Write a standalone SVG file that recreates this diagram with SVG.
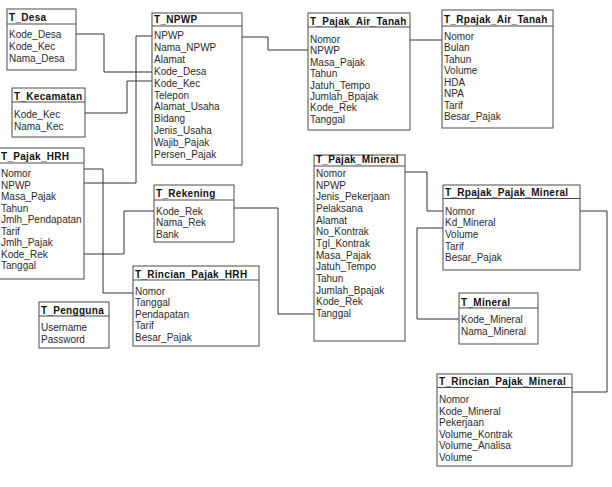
<svg xmlns="http://www.w3.org/2000/svg" width="612" height="487" viewBox="0 0 612 487">
<style>
rect.box{fill:#fff;stroke:#4a4a4a;stroke-width:1}
line.div{stroke:#4a4a4a;stroke-width:1.2}
text{font-family:"Liberation Sans",Arial,sans-serif;font-size:10px;fill:#2a2a2a}
text.t{font-weight:bold;fill:#111;letter-spacing:0.3px}
.conn polyline{fill:none;stroke:#333;stroke-width:1}
</style>
<rect width="612" height="487" fill="#fff"/>
<g class="conn">
<polyline points="76,34 104,34 104,72 152,72"/>
<polyline points="85,113 127,113 127,81 152,81"/>
<polyline points="84,183 136,183 136,36 152,36"/>
<polyline points="242,37 268,37 268,50 308,50"/>
<polyline points="410,40 442,40"/>
<polyline points="84,169 103,169 103,293 133,293"/>
<polyline points="84,254 124,254 124,211 154,211"/>
<polyline points="234,208 278,208 278,314 314,314"/>
<polyline points="405,172 427,172 427,211 443,211"/>
<polyline points="443,228 417,228 417,319 459,319"/>
<polyline points="580,211 607,211 607,392 572,392"/>
</g>
<g id="T_Desa">
<rect class="box" x="7" y="9" width="69" height="61"/>
<line class="div" x1="7" y1="24" x2="76" y2="24"/>
<text class="t" x="9" y="21.3">T_Desa</text>
<text x="9" y="38">Kode_Desa</text>
<text x="9" y="50">Kode_Kec</text>
<text x="9" y="62">Nama_Desa</text>
</g>
<g id="T_Kecamatan">
<rect class="box" x="12" y="88" width="73" height="49"/>
<line class="div" x1="12" y1="102" x2="85" y2="102"/>
<text class="t" x="14" y="99.5">T_Kecamatan</text>
<text x="14" y="118">Kode_Kec</text>
<text x="14" y="130">Nama_Kec</text>
</g>
<g id="T_NPWP">
<rect class="box" x="152" y="13" width="90" height="152"/>
<line class="div" x1="152" y1="26" x2="242" y2="26"/>
<text class="t" x="154" y="23.3">T_NPWP</text>
<text x="154" y="39">NPWP</text>
<text x="154" y="50.9">Nama_NPWP</text>
<text x="154" y="62.8">Alamat</text>
<text x="154" y="74.7">Kode_Desa</text>
<text x="154" y="86.6">Kode_Kec</text>
<text x="154" y="98.5">Telepon</text>
<text x="154" y="110.4">Alamat_Usaha</text>
<text x="154" y="122.3">Bidang</text>
<text x="154" y="134.2">Jenis_Usaha</text>
<text x="154" y="146.1">Wajib_Pajak</text>
<text x="154" y="158">Persen_Pajak</text>
</g>
<g id="T_Pajak_Air_Tanah">
<rect class="box" x="308" y="13" width="102" height="117"/>
<line class="div" x1="308" y1="27" x2="410" y2="27"/>
<text class="t" x="310" y="24.5">T_Pajak_Air_Tanah</text>
<text x="310" y="43">Nomor</text>
<text x="310" y="54.4">NPWP</text>
<text x="310" y="65.8">Masa_Pajak</text>
<text x="310" y="77.2">Tahun</text>
<text x="310" y="88.6">Jatuh_Tempo</text>
<text x="310" y="100">Jumlah_Bpajak</text>
<text x="310" y="111.4">Kode_Rek</text>
<text x="310" y="122.8">Tanggal</text>
</g>
<g id="T_Rpajak_Air_Tanah">
<rect class="box" x="442" y="10" width="111" height="118"/>
<line class="div" x1="442" y1="26" x2="553" y2="26"/>
<text class="t" x="444" y="22.8">T_Rpajak_Air_Tanah</text>
<text x="444" y="39.8">Nomor</text>
<text x="444" y="51.3">Bulan</text>
<text x="444" y="62.8">Tahun</text>
<text x="444" y="74.3">Volume</text>
<text x="444" y="85.8">HDA</text>
<text x="444" y="97.3">NPA</text>
<text x="444" y="108.8">Tarif</text>
<text x="444" y="120.3">Besar_Pajak</text>
</g>
<g id="T_Pajak_HRH">
<rect class="box" x="-10" y="148" width="94" height="131"/>
<line class="div" x1="-10" y1="163" x2="84" y2="163"/>
<text class="t" x="1" y="160">T_Pajak_HRH</text>
<text x="1" y="177">Nomor</text>
<text x="1" y="188.6">NPWP</text>
<text x="1" y="200.1">Masa_Pajak</text>
<text x="1" y="211.7">Tahun</text>
<text x="1" y="223.2">Jmlh_Pendapatan</text>
<text x="1" y="234.8">Tarif</text>
<text x="1" y="246.3">Jmlh_Pajak</text>
<text x="1" y="257.9">Kode_Rek</text>
<text x="1" y="269.4">Tanggal</text>
</g>
<g id="T_Rekening">
<rect class="box" x="154" y="185" width="80" height="57"/>
<line class="div" x1="154" y1="200" x2="234" y2="200"/>
<text class="t" x="156" y="197">T_Rekening</text>
<text x="156" y="214.5">Kode_Rek</text>
<text x="156" y="226">Nama_Rek</text>
<text x="156" y="237.5">Bank</text>
</g>
<g id="T_Rincian_Pajak_HRH">
<rect class="box" x="133" y="266" width="126" height="80"/>
<line class="div" x1="133" y1="280" x2="259" y2="280"/>
<text class="t" x="135" y="277.5">T_Rincian_Pajak_HRH</text>
<text x="135" y="294.5">Nomor</text>
<text x="135" y="306">Tanggal</text>
<text x="135" y="317.5">Pendapatan</text>
<text x="135" y="329">Tarif</text>
<text x="135" y="340.5">Besar_Pajak</text>
</g>
<g id="T_Pengguna">
<rect class="box" x="39" y="302" width="70" height="46"/>
<line class="div" x1="39" y1="316" x2="109" y2="316"/>
<text class="t" x="41" y="313.5">T_Pengguna</text>
<text x="41" y="331">Username</text>
<text x="41" y="342.7">Password</text>
</g>
<g id="T_Pajak_Mineral">
<rect class="box" x="314" y="155" width="91" height="186"/>
<line class="div" x1="314" y1="166" x2="405" y2="166"/>
<text class="t" x="316" y="163">T_Pajak_Mineral</text>
<text x="316" y="177">Nomor</text>
<text x="316" y="188.7">NPWP</text>
<text x="316" y="200.3">Jenis_Pekerjaan</text>
<text x="316" y="212">Pelaksana</text>
<text x="316" y="223.7">Alamat</text>
<text x="316" y="235.3">No_Kontrak</text>
<text x="316" y="247">Tgl_Kontrak</text>
<text x="316" y="258.7">Masa_Pajak</text>
<text x="316" y="270.3">Jatuh_Tempo</text>
<text x="316" y="282">Tahun</text>
<text x="316" y="293.7">Jumlah_Bpajak</text>
<text x="316" y="305.3">Kode_Rek</text>
<text x="316" y="317">Tanggal</text>
</g>
<g id="T_Rpajak_Pajak_Mineral">
<rect class="box" x="443" y="185" width="137" height="85"/>
<line class="div" x1="443" y1="198.5" x2="580" y2="198.5"/>
<text class="t" x="445" y="196">T_Rpajak_Pajak_Mineral</text>
<text x="445" y="214.5">Nomor</text>
<text x="445" y="226.2">Kd_Mineral</text>
<text x="445" y="237.8">Volume</text>
<text x="445" y="249.5">Tarif</text>
<text x="445" y="261.2">Besar_Pajak</text>
</g>
<g id="T_Mineral">
<rect class="box" x="459" y="293" width="79" height="51"/>
<line class="div" x1="459" y1="308" x2="538" y2="308"/>
<text class="t" x="461" y="305.5">T_Mineral</text>
<text x="461" y="323">Kode_Mineral</text>
<text x="461" y="334.5">Nama_Mineral</text>
</g>
<g id="T_Rincian_Pajak_Mineral">
<rect class="box" x="437" y="374" width="135" height="92"/>
<line class="div" x1="437" y1="387.5" x2="572" y2="387.5"/>
<text class="t" x="439" y="385">T_Rincian_Pajak_Mineral</text>
<text x="439" y="403">Nomor</text>
<text x="439" y="414.6">Kode_Mineral</text>
<text x="439" y="426.2">Pekerjaan</text>
<text x="439" y="437.8">Volume_Kontrak</text>
<text x="439" y="449.4">Volume_Analisa</text>
<text x="439" y="461">Volume</text>
</g>
</svg>
